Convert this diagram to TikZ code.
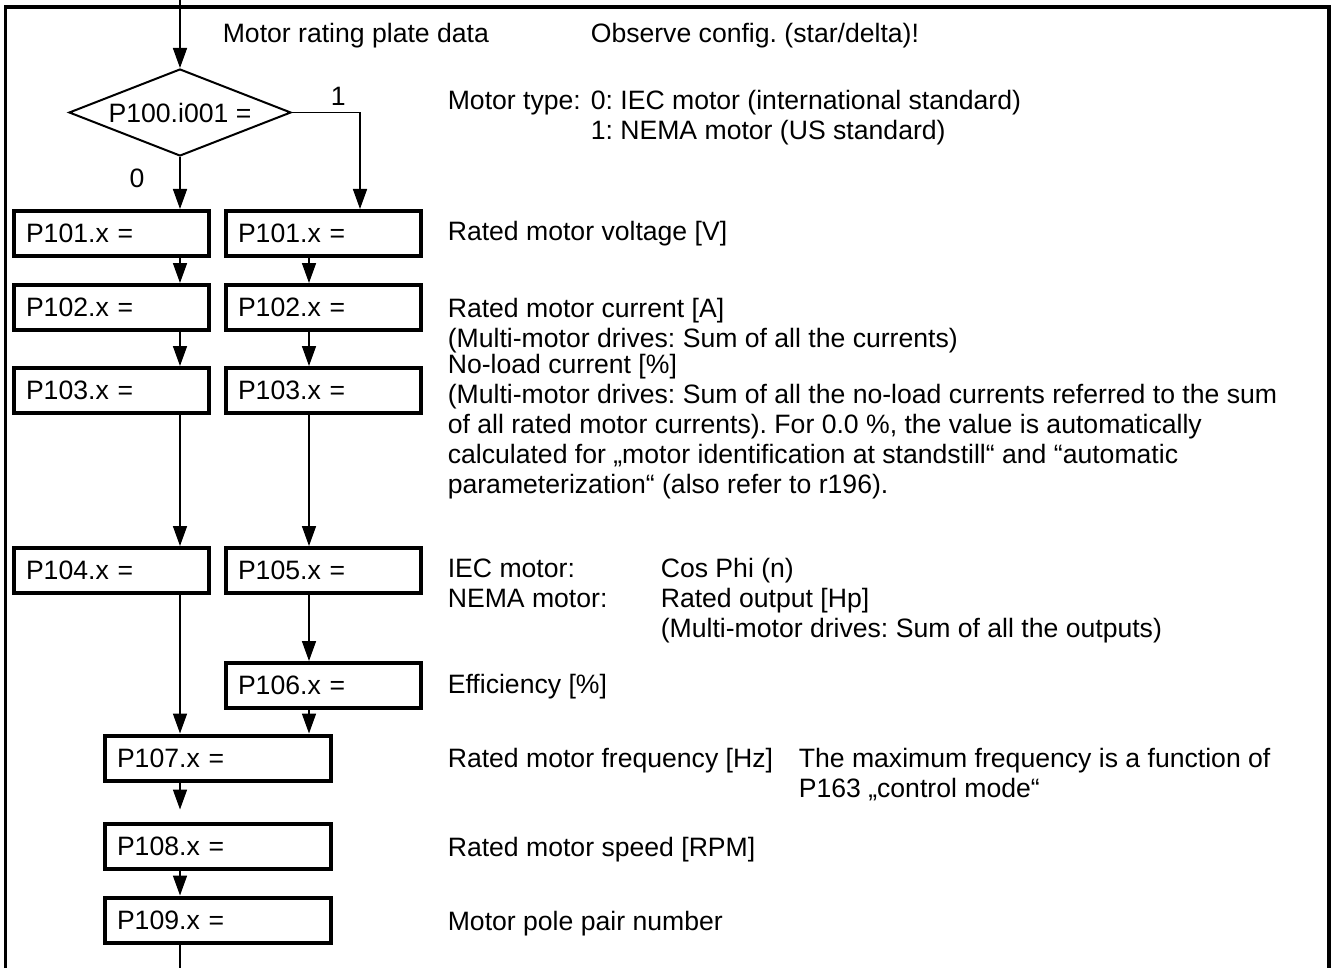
\documentclass[tikz,border=0pt]{standalone}
\usepackage{fontspec}
\setmainfont{Liberation Sans}
\usetikzlibrary{positioning, calc}
\usetikzlibrary{arrows.meta, shapes.geometric}
\frenchspacing

\begin{document}
\begin{tikzpicture}[x=0.5pt, y=-0.5pt, ->, >={Triangle[length=10pt,width=7pt]},
  line width=0.8pt, font=\fontsize{13.3}{15}\selectfont,
  pbox/.style={draw, -, line width=2pt, rectangle, text width=85.5pt, inner xsep=6pt,
    inner ysep=0pt, minimum height=22.5pt, align=left},
  wbox/.style={pbox, text width=101pt},
  decide/.style={draw, -, line width=1pt, diamond, aspect=2.5, inner sep=0pt,
    minimum width=111pt, minimum height=43.5pt},
  desc/.style={anchor=base west, inner sep=0pt, align=left},
  frame/.style={line width=1.75pt, line join=miter}]

\useasboundingbox (0,0) rectangle (1336,968);
\draw[frame, -] (5.5,968) -- (5.5,7) -- (1329,7) -- (1329,968);

\coordinate (in) at (180,0);
\coordinate (rcol) at (309,0);
\coordinate (jog) at (360,112.5);
\coordinate (out) at (180,968);

\node[decide] (cond) at (180,112.5) {P100.i001 =};

% left: IEC (0), right: NEMA (1)
\node[pbox] (L101) at (111.5,233.5) {P101.x =};
\node[pbox] (R101) [right=6.5pt of L101] {P101.x =};
\node[pbox] (L102) [below=12.5pt of L101] {P102.x =};
\node[pbox] (R102) [right=6.5pt of L102] {P102.x =};
\node[pbox] (L103) [below=17pt of L102] {P103.x =};
\node[pbox] (R103) [right=6.5pt of L103] {P103.x =};
\node[pbox] (L104) [below=65.5pt of L103] {P104.x =};
\node[pbox] (R105) [right=6.5pt of L104] {P105.x =};
\node[pbox] (R106) [below=33pt of R105] {P106.x =};

\node[wbox] (P107) at (218,758) {P107.x =};
\node[wbox] (P108) [below=19.5pt of P107] {P108.x =};
\node[wbox] (P109) [below=12.5pt of P108] {P109.x =};

% texts (multi-line: base = last line)
\node[desc] (plate) at (222,43) {Motor rating plate data};
\node[desc] (star) at (590,43) {Observe config. (star/delta)!};
\node[desc] (type) at (447,110) {Motor type:};
\node[desc] (typeval) at (590,140) {0: IEC motor (international standard)\\1: NEMA motor (US standard)};
\node[desc] (volt) at (447,241) {Rated motor voltage [V]};
\node[desc] (curr) at (447,347) {Rated motor current [A]\\(Multi-motor drives: Sum of all the currents)};
\node[desc] (noload) at (447,493) {No-load current [\%]\\(Multi-motor drives: Sum of all the no-load currents referred to the sum\\of all rated motor currents). For 0.0 \%, the value is automatically\\calculated for „motor identification at standstill“ and “automatic\\parameterization“ (also refer to r196).};
\node[desc] (kind) at (447,607) {IEC motor:\\NEMA motor:};
\node[desc] (kindval) at (660,637) {Cos Phi (n)\\Rated output [Hp]\\(Multi-motor drives: Sum of all the outputs)};
\node[desc] (eff) at (447,693) {Efficiency [\%]};
\node[desc] (freq) at (447,767) {Rated motor frequency [Hz]};
\node[desc] (fmax) at (798,797) {The maximum frequency is a function of\\P163 „control mode“};
\node[desc] (speed) at (447,856) {Rated motor speed [RPM]};
\node[desc] (pole) at (447,930) {Motor pole pair number};

\draw (in) -- (cond.north);
\draw (cond.south) -- node[pos=0.42, left=14pt] {0} (cond.south |- L101.north);
\draw (cond.east) -- node[pos=0.68, above] {1} (jog) -- (jog |- R101.north);

\path
  (L101.south -| in) edge (L102.north -| in)
  (L102.south -| in) edge (L103.north -| in)
  (L103.south -| in) edge (L104.north -| in)
  (L104.south -| in) edge (P107.north -| in);
\path
  (R101.south -| rcol) edge (R102.north -| rcol)
  (R102.south -| rcol) edge (R103.north -| rcol)
  (R103.south -| rcol) edge (R105.north -| rcol)
  (R105.south -| rcol) edge (R106.north -| rcol)
  (R106.south -| rcol) edge (P107.north -| rcol);
\path
  (P107.south -| in) edge[shorten >=6pt] (P108.north -| in)
  (P108.south -| in) edge (P109.north -| in);
\draw[-] (P109.south -| in) -- (out);
\end{tikzpicture}
\end{document}
